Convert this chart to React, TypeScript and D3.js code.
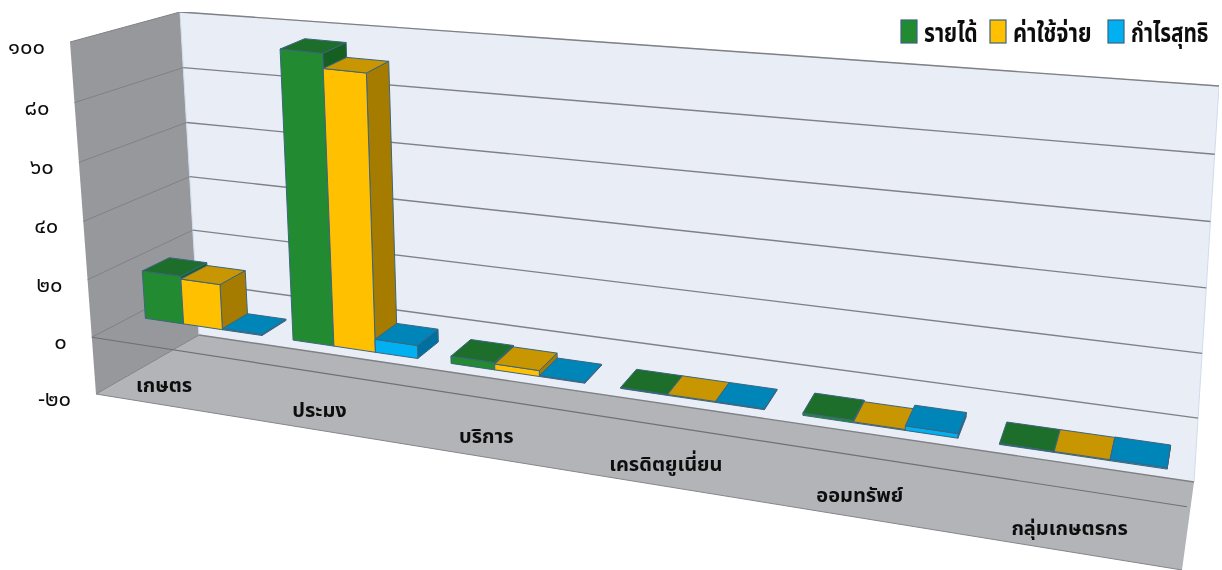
import React from "react";
import * as d3 from "d3";

const categories = ["เกษตร", "ประมง", "บริการ", "เครดิตยูเนี่ยน", "ออมทรัพย์", "กลุ่มเกษตรกร"];
const seriesNames = ["รายได้", "ค่าใช้จ่าย", "กำไรสุทธิ"];
const revenue = [17, 99.5, 2.5, 0.3, 0.8, 0.3];
const expense = [16, 94.5, 2, 0.3, 0.3, 0.3];
const profit = [0.4, 4.5, 0.3, 0.3, 1.5, 0.4];
const tickValues = [100, 80, 60, 40, 20, 0, -20];
const tickLabels = ["๑๐๐", "๘๐", "๖๐", "๔๐", "๒๐", "๐", "-๒๐"];

const FONT = "'Noto Sans Thai', Tahoma, 'Noto Sans', 'DejaVu Sans', sans-serif";
const faces = [
  { front: "#238b30", top: "#1e6e2a", side: "#175f22" },
  { front: "#ffc000", top: "#c89600", side: "#a67c00" },
  { front: "#00b0f0", top: "#0085b8", side: "#0070a0" },
];

// corners of the 3D box on screen: [x, y], named Front/Back, Left/Right, Bottom/Top
const FLB = [96, 394], FLT = [70, 42], BLB = [199, 335], BLT = [180, 12];
const FRB = [1182, 570], FRT = [1212, 178], BRB = [1194, 482], BRT = [1219, 86];

const vScale = d3.scaleLinear().domain([-20, 100]).range([0, 1]);
const uScale = d3.scaleLinear().domain([0, 6]).range([0, 1]);
const PERSP = 1.244, PERSP_V = 1.04;
const lerp = (a: number, b: number, t: number) => d3.interpolateNumber(a, b)(t);
const lerp2 = (a: number[], b: number[], t: number) => [lerp(a[0], b[0], t), lerp(a[1], b[1], t)];

function P(u: number, v: number, w: number): number[] {
  const s = uScale(u);
  const t = s / (s + (1 - s) * PERSP);
  const h = vScale(v);
  const k = h / (h + (1 - h) * PERSP_V);
  const left = lerp2(lerp2(FLB, FLT, k), lerp2(BLB, BLT, k), w);
  const right = lerp2(lerp2(FRB, FRT, k), lerp2(BRB, BRT, k), w);
  return lerp2(left, right, t);
}
const poly = (pts: number[][]) => pts.map((p) => p.map((n) => n.toFixed(1)).join(",")).join(" ");
const seg = (a: number[], b: number[]) => ({ x1: a[0], y1: a[1], x2: b[0], y2: b[1] });

const BAR_START = 0.095, BAR_W = 0.265, W0 = 0.385, W1 = 0.645;
const EDGE = "#3d6480";

export default function App() {
  const series = [revenue, expense, profit];
  const legend = [
    { sx: 901, tx: 924, sc: 0.81 },
    { sx: 990, tx: 1013, sc: 0.84 },
    { sx: 1108, tx: 1131, sc: 0.8 },
  ];
  return (
    <svg width={1222} height={570} style={{ position: "absolute", left: 0, top: 0, background: "#fff" }} fontFamily={FONT}>
      <defs>
        <filter id="soft" x="0" y="0" width="100%" height="100%">
          <feGaussianBlur stdDeviation="0.45" />
        </filter>
      </defs>
      <g filter="url(#soft)">
        {/* walls */}
        <polygon points={poly([P(0, -20, 0), P(0, 100, 0), P(0, 100, 1), P(0, -20, 1)])} fill="#97989c" />
        <polygon points={poly([P(0, -20, 1), P(0, 100, 1), P(6, 100, 1), P(6, -20, 1)])} fill="#e8edf6" stroke="#cfdcee" strokeWidth={1} />
        <polygon points={poly([P(0, -20, 0), P(0, -20, 1), P(6, -20, 1), P(6, -20, 0)])} fill="#b2b4b8" />
        {/* grid */}
        {tickValues.map((v) => (
          <g key={v} fill="none">
            <line {...seg(P(0, v, 0), P(0, v, 1))} stroke="#808185" strokeWidth={1} />
            <line {...seg(P(0, v, 1), P(6, v, 1))} stroke="#808185" strokeWidth={1.4} />
          </g>
        ))}
        <line {...seg(P(0, 0, 0), P(6, 0, 0))} stroke="#6f7074" strokeWidth={1.2} />
        <line {...seg(P(0, -20, 0), P(6, -20, 0))} stroke="#85868a" strokeWidth={1} />
        {/* bars */}
        {categories.map((c, i) =>
          series.map((vals, s) => {
            const a = i + BAR_START + s * BAR_W;
            const b = a + BAR_W;
            const v = vals[i];
            const f = faces[s];
            return (
              <g key={c + s} stroke={EDGE} strokeWidth={1} strokeLinejoin="round">
                <polygon points={poly([P(b, 0, W0), P(b, v, W0), P(b, v, W1), P(b, 0, W1)])} fill={f.side} />
                <polygon points={poly([P(a, 0, W0), P(a, v, W0), P(b, v, W0), P(b, 0, W0)])} fill={f.front} />
                <polygon points={poly([P(a, v, W0), P(a, v, W1), P(b, v, W1), P(b, v, W0)])} fill={f.top} />
              </g>
            );
          })
        )}
        {/* value axis labels */}
        {tickValues.map((v, i) => {
          const p = P(0, v, 0);
          return (
            <text key={v} x={p[0] - 25} y={p[1] + 12} textAnchor="end" fontSize={22} fill="#111">
              {tickLabels[i]}
            </text>
          );
        })}
        {/* category labels */}
        {categories.map((c, i) => {
          const p = P(0.26 + 1.04 * i, -20, 0.3);
          return (
            <text key={c} x={p[0]} y={p[1] + 10} textAnchor="middle" fontSize={20} fontWeight="bold" fill="#111">
              {c}
            </text>
          );
        })}
        {/* legend */}
        {seriesNames.map((n, i) => (
          <g key={n}>
            <rect x={legend[i].sx} y={20} width={16} height={23} fill={faces[i].front} stroke={EDGE} strokeWidth={1.2} />
            <text
              transform={`translate(${legend[i].tx},42) scale(${legend[i].sc},1)`}
              fontSize={26}
              fontWeight="bold"
              fill="#111"
            >
              {n}
            </text>
          </g>
        ))}
      </g>
    </svg>
  );
}
